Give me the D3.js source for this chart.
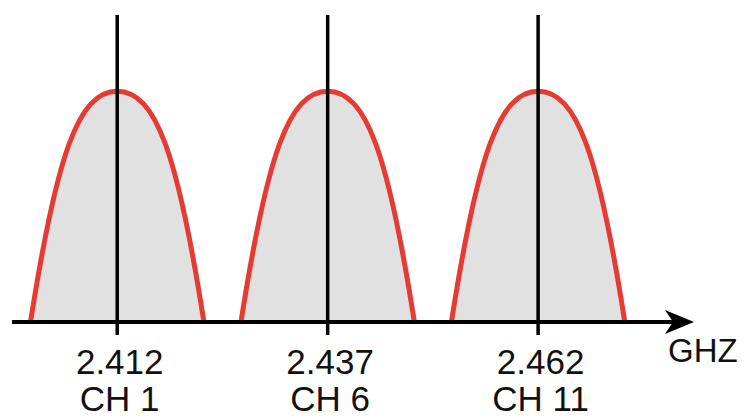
<!DOCTYPE html>
<meta charset="utf-8">
<style>
body { margin: 0; background: #fff; }
svg { display: block; }
.label { font-family: "Liberation Sans", Arial, Helvetica, sans-serif; fill: #111; }
.mask { fill: #e1e1e1; stroke: #e53b33; stroke-width: 5px; }
.center { stroke: #000; stroke-width: 3.5px; }
</style>
<svg width="744" height="419"></svg>
<script src="https://d3js.org/d3.v7.min.js"></script>
<script>
// channel data
var channels = ["CH 1", "CH 6", "CH 11"];
var freqs = [2.412, 2.437, 2.462];
var freqLabels = ["2.412", "2.437", "2.462"];
var halfWidth = 0.0103;   // GHz, half width of each channel mask at the base
var peakLevel = 1;
var unit = "GHZ";

var svg = d3.select("svg"),
    axisY = 322;

var x = d3.scaleLinear().domain([2.3995, 2.4804]).range([12, 693]),
    y = d3.scaleLinear().domain([0, 1.33]).range([axisY, 15]);

// channel masks: two cubic halves, flat at the top, steep at the base
var g = svg.append("g");
g.selectAll(".mask")
  .data(freqs)
  .enter().append("path")
    .attr("class", "mask")
    .attr("d", function(f) {
      var w = halfWidth, p = d3.path();
      p.moveTo(x(f - w), y(0));
      p.bezierCurveTo(x(f - 0.7 * w), y(0.72 * peakLevel),
                      x(f - 0.45 * w), y(peakLevel),
                      x(f), y(peakLevel));
      p.bezierCurveTo(x(f + 0.45 * w), y(peakLevel),
                      x(f + 0.7 * w), y(0.72 * peakLevel),
                      x(f + w), y(0));
      return p.toString();
    });

// axis line with arrow
var xr = x.range();
svg.append("line")
    .attr("x1", xr[0]).attr("x2", xr[1] - 10)
    .attr("y1", axisY).attr("y2", axisY)
    .attr("stroke", "#000").attr("stroke-width", 4);
svg.append("path")
    .attr("d", "M" + (xr[1] + 1) + "," + axisY +
               "L" + (xr[1] - 28) + "," + (axisY - 12) +
               "L" + (xr[1] - 20) + "," + axisY +
               "L" + (xr[1] - 28) + "," + (axisY + 12) + "Z")
    .attr("fill", "#000");

// center lines
svg.selectAll(".center")
  .data(freqs)
  .enter().append("line")
    .attr("class", "center")
    .attr("x1", function(d) { return x(d); })
    .attr("x2", function(d) { return x(d); })
    .attr("y1", y.range()[1])
    .attr("y2", axisY + 13);

// ticks + labels
var axis = svg.append("g")
    .attr("transform", "translate(0," + axisY + ")")
    .call(d3.axisBottom(x).tickValues(freqs).tickSize(0)
      .tickFormat(function(d, i) { return freqLabels[i]; }));
axis.select(".domain").remove();
axis.selectAll(".tick text")
    .attr("class", "label")
    .attr("font-family", null)
    .attr("font-size", 35)
    .attr("x", 2)
    .attr("y", 52)
    .attr("dy", null)
    .attr("fill", "#111")
    .each(function(d, i) {
      d3.select(this).append("tspan")
        .attr("x", 2).attr("dy", 37)
        .text(channels[i]);
    });

svg.append("text")
    .attr("class", "label")
    .attr("x", 668)
    .attr("y", 362)
    .attr("font-size", 33)
    .text(unit);
</script>
